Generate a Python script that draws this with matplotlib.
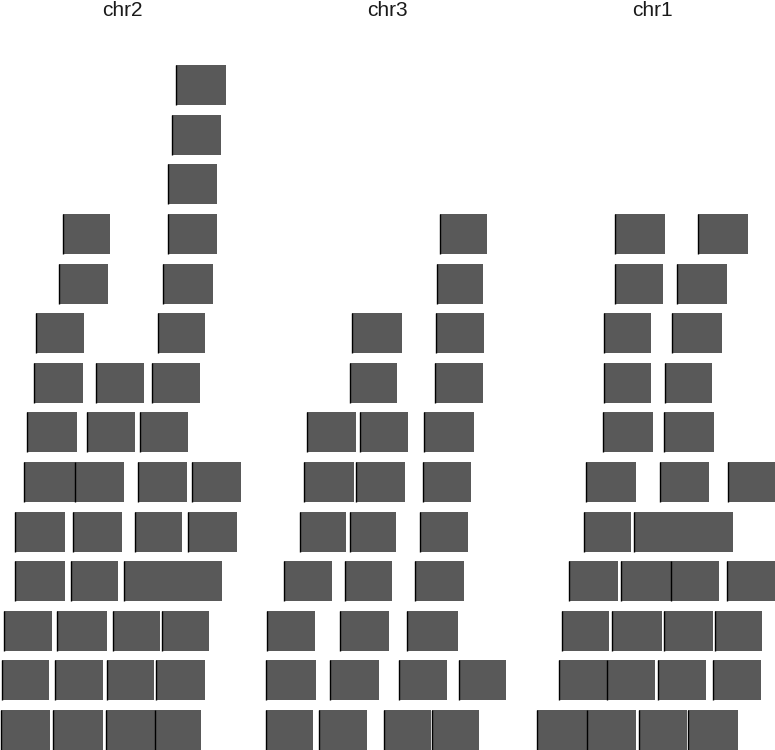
"""Stacked genomic ranges, one panel per chromosome."""

import matplotlib

matplotlib.use("Agg")
import matplotlib.pyplot as plt
import numpy as np

CHROMS = ["chr2", "chr3", "chr1"]

# Ranges per chromosome: start, end and stacking level (1 = bottom row).
CHR2_START = [1, 53, 106, 155, 2, 55, 107, 156, 4, 57, 113, 162, 15, 71, 124,
              15, 73, 135, 188, 24, 75, 138, 192, 27, 87, 140, 34, 96, 152,
              36, 158, 59, 163, 63, 168, 168, 172, 176]
CHR2_END = [50, 103, 155, 201, 49, 103, 154, 205, 52, 107, 160, 209, 65, 118, 222,
            65, 122, 182, 237, 75, 124, 187, 241, 77, 135, 188, 83, 144, 200,
            84, 205, 108, 213, 110, 217, 217, 221, 226]
CHR2_LEVEL = [1, 1, 1, 1, 2, 2, 2, 2, 3, 3, 3, 3, 4, 4, 4,
              5, 5, 5, 5, 6, 6, 6, 6, 7, 7, 7, 8, 8, 8,
              9, 9, 10, 10, 11, 11, 12, 13, 14]

CHR3_START = [1, 54, 119, 167, 1, 65, 134, 194, 2, 75, 142, 19, 80, 150,
              35, 85, 155, 39, 91, 158, 42, 95, 159, 85, 170, 87, 171, 172, 175]
CHR3_END = [48, 102, 166, 214, 51, 114, 182, 241, 50, 124, 193, 67, 127, 199,
            81, 131, 203, 89, 140, 206, 91, 143, 209, 132, 218, 137, 219, 218, 222]
CHR3_LEVEL = [1, 1, 1, 1, 2, 2, 2, 2, 3, 3, 3, 4, 4, 4,
              5, 5, 5, 6, 6, 6, 7, 7, 7, 8, 8, 9, 9, 10, 11]

CHR1_START = [7, 57, 109, 158, 29, 77, 128, 183, 32, 82, 134, 185, 39, 91, 141, 197,
              54, 104, 56, 130, 198, 73, 134, 74, 135, 74, 142, 85, 147, 85, 168]
CHR1_END = [57, 106, 157, 208, 77, 125, 176, 231, 79, 132, 183, 232, 88, 141, 189, 245,
            101, 203, 106, 179, 245, 123, 184, 121, 182, 121, 192, 133, 197, 135, 218]
CHR1_LEVEL = [1, 1, 1, 1, 2, 2, 2, 2, 3, 3, 3, 3, 4, 4, 4, 4,
              5, 5, 6, 6, 6, 7, 7, 8, 8, 9, 9, 10, 10, 11, 11]

DATA = {
    "chr2": (CHR2_START, CHR2_END, CHR2_LEVEL),
    "chr3": (CHR3_START, CHR3_END, CHR3_LEVEL),
    "chr1": (CHR1_START, CHR1_END, CHR1_LEVEL),
}

FILL = "#595959"
BAR_H = 0.806

fig = plt.figure(figsize=(7.75, 7.5), dpi=100)

panel_left = [0, 265, 530]
panel_w = 245
for name, left in zip(CHROMS, panel_left):
    starts, ends, levels = (np.asarray(a, dtype=float) for a in DATA[name])
    ax = fig.add_axes([left / 775, 0, panel_w / 775, 1])
    ax.bar(starts, BAR_H, width=ends - starts, bottom=levels - BAR_H / 2,
           align="edge", color=FILL, linewidth=0)
    ax.vlines(starts, levels - BAR_H / 2, levels + BAR_H / 2,
              color="black", linewidth=1.0)
    ax.set_xlim(0, panel_w)
    ax.set_ylim(0.597, 15.718)
    ax.axis("off")
    fig.text((left + panel_w / 2) / 775, 1 - 10.5 / 750, name,
             ha="center", va="center", fontsize=15,
             family="Liberation Sans", color="#1a1a1a")

fig.savefig("out.png", dpi=100, facecolor="white")
